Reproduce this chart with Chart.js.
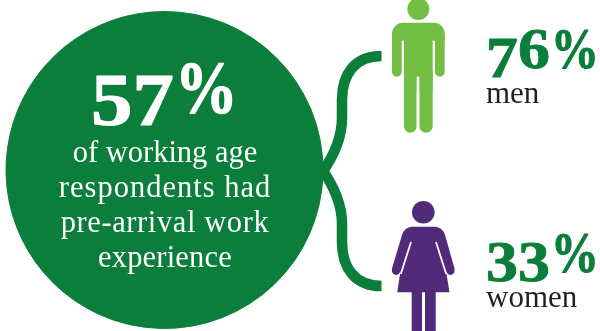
<!DOCTYPE html>
<html>
<head>
<meta charset="utf-8">
<script src="https://cdn.jsdelivr.net/npm/chart.js@4"></script>
<style>
    body { margin: 0; background: #fff; }
    canvas { display: block; }
</style>
</head>
<body>
<canvas id="work" width="600" height="331"></canvas>
<script>
const groups = ["men", "women"];
const groupValues = [76, 33];
const overallValue = 57;
const overallLines = ["of working age", "respondents had", "pre-arrival work", "experience"];

const green = "#0a7e3a";
const lightGreen = "#72bf44";
const purple = "#522a7a";
const textDark = "#231f20";
const serif = '"Liberation Serif", serif';

function drawText(ctx, text, x, y, font, color, align, spacing) {
    ctx.font = font;
    ctx.fillStyle = color;
    ctx.textAlign = align;
    ctx.textBaseline = "alphabetic";
    ctx.letterSpacing = (spacing || 0) + "px";
    ctx.fillText(text, x, y);
    ctx.letterSpacing = "0px";
}

// one heavy glyph, squeezed or widened around its left edge
function drawGlyph(ctx, glyph, x, y, stretch, weight) {
    ctx.save();
    ctx.translate(x, y);
    ctx.scale(stretch, 1);
    ctx.lineWidth = weight;
    ctx.strokeText(glyph, 0, 0);
    ctx.fillText(glyph, 0, 0);
    ctx.restore();
}

// big percentages, with old style figures: 3, 5 and 7 hang below the line
function drawPercent(ctx, value, x, y, size, color) {
    ctx.save();
    ctx.font = "bold " + size + "px " + serif;
    ctx.fillStyle = color;
    ctx.strokeStyle = color;
    ctx.lineJoin = "round";
    ctx.textAlign = "left";
    ctx.textBaseline = "alphabetic";
    let left = x;
    String(value).split("").forEach((digit) => {
        const drop = "357".includes(digit) ? size * 0.16 : 0;
        drawGlyph(ctx, digit, left, y + drop, 1.12, size * 0.015);
        left += ctx.measureText(digit).width * 1.12;
    });
    drawGlyph(ctx, "%", left + size * 0.02, y, 0.84, size * 0.02);
    ctx.restore();
}

function drawConnector(ctx) {
    ctx.strokeStyle = green;
    ctx.lineWidth = 10.5;
    ctx.lineCap = "butt";
    ctx.lineJoin = "round";
    ctx.beginPath();
    ctx.moveTo(381.5, 56);
    ctx.bezierCurveTo(355, 56, 342, 74, 342, 100);
    ctx.lineTo(342, 118);
    ctx.bezierCurveTo(342, 138, 334, 156, 321, 174);
    ctx.moveTo(381.5, 286);
    ctx.bezierCurveTo(355, 286, 342, 268, 342, 242);
    ctx.lineTo(342, 224);
    ctx.bezierCurveTo(342, 204, 334, 186, 321, 168);
    ctx.stroke();
}

function drawMan(ctx) {
    ctx.fillStyle = lightGreen;
    ctx.beginPath();
    ctx.arc(418.3, 9, 11, 0, Math.PI * 2);
    ctx.fill();

    // shoulders and torso
    ctx.beginPath();
    ctx.roundRect(392, 22.7, 52.7, 18, [11, 11, 0, 0]);
    ctx.fill();
    ctx.fillRect(404, 40, 28.7, 50);

    // arms
    ctx.beginPath();
    ctx.roundRect(392, 35, 9.7, 41.7, [0, 0, 4.8, 4.8]);
    ctx.roundRect(435, 35, 9.7, 41.7, [0, 0, 4.8, 4.8]);
    ctx.fill();

    // legs
    ctx.beginPath();
    ctx.roundRect(404, 70, 12.7, 62.7, [0, 0, 6.3, 6.3]);
    ctx.roundRect(419.3, 70, 13.4, 62.7, [0, 0, 6.6, 6.6]);
    ctx.fill();
    ctx.fillStyle = "#fff";
    ctx.fillRect(416.7, 76.7, 2.6, 58);
}

function drawWoman(ctx) {
    ctx.fillStyle = purple;
    ctx.beginPath();
    ctx.arc(423.3, 212.3, 11.3, 0, Math.PI * 2);
    ctx.fill();

    // body with arms and skirt in one outline
    ctx.beginPath();
    ctx.moveTo(412, 226.7);
    ctx.lineTo(435, 226.7);
    ctx.quadraticCurveTo(442.5, 227, 445, 235);
    ctx.lineTo(454.5, 268.5);
    ctx.quadraticCurveTo(455.5, 274, 450.5, 275);
    ctx.quadraticCurveTo(447.5, 275, 446, 271);
    ctx.lineTo(449.5, 292.3);
    ctx.lineTo(397.2, 292.3);
    ctx.lineTo(400.5, 271);
    ctx.quadraticCurveTo(399, 275, 396, 275);
    ctx.quadraticCurveTo(391, 274, 392, 268.5);
    ctx.lineTo(402, 235);
    ctx.quadraticCurveTo(404.5, 227, 412, 226.7);
    ctx.closePath();
    ctx.fill();

    // legs
    ctx.fillRect(411.7, 292, 10.3, 39);
    ctx.fillRect(425, 292, 10.7, 39);

    // slits between arms and body
    ctx.strokeStyle = "#fff";
    ctx.lineWidth = 1.8;
    ctx.beginPath();
    ctx.moveTo(411, 242);
    ctx.lineTo(400.8, 274);
    ctx.moveTo(436, 242);
    ctx.lineTo(446.2, 274);
    ctx.stroke();
}

const infographic = {
    id: "infographic",
    // the connector has to sit under the circle's edge
    beforeDatasetsDraw(chart) {
        drawConnector(chart.ctx);
    },
    afterDatasetsDraw(chart) {
        const ctx = chart.ctx;
        drawMan(ctx);
        drawWoman(ctx);

        drawPercent(ctx, overallValue, 91, 113, 74, "#fff");
        const baselines = [161.7, 196.5, 231.7, 266.7];
        const spacings = [0, 1, 0.6, 0.2];
        overallLines.forEach((line, i) => {
            drawText(ctx, line, 165, baselines[i], "30.5px " + serif, "#fff", "center", spacings[i]);
        });

        const valueBaselines = [68, 272];
        const nameBaselines = [103, 306.7];
        groups.forEach((name, i) => {
            drawPercent(ctx, groupValues[i], 486, valueBaselines[i], 57, green);
            drawText(ctx, name, 486, nameBaselines[i], "31px " + serif, textDark, "left");
        });
    }
};

new Chart(document.getElementById("work"), {
    type: "pie",
    data: {
        labels: ["had experience", "no experience"],
        datasets: [{
            data: [overallValue, 100 - overallValue],
            backgroundColor: green,
            borderColor: green,
            borderWidth: 1
        }]
    },
    options: {
        responsive: false,
        animation: false,
        layout: { padding: { left: 5, right: 276, top: 11, bottom: 2 } },
        plugins: {
            legend: { display: false },
            tooltip: { enabled: false }
        }
    },
    plugins: [infographic]
});
</script>
</body>
</html>
